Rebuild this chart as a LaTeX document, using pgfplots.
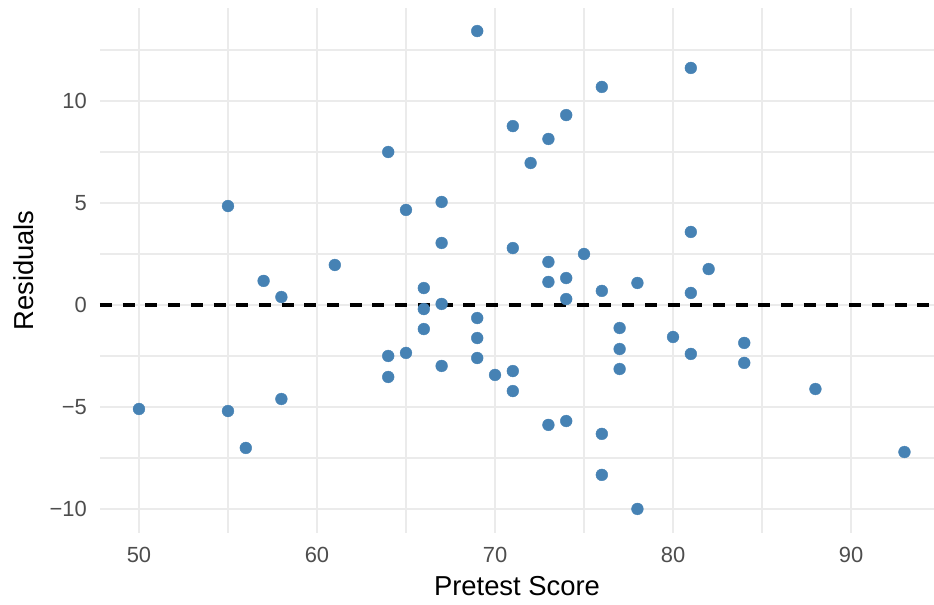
\documentclass[border=0pt]{standalone}
\usepackage{fontspec}
\setmainfont{Liberation Sans}
\usepackage{pgfplots}
\pgfplotsset{compat=1.18}
\definecolor{steelblue}{HTML}{4682B4}
\definecolor{gridmaj}{HTML}{EBEBEB}
\definecolor{ticktxt}{HTML}{4D4D4D}
\begin{document}
\begin{tikzpicture}
\useasboundingbox (-100bp,-72bp) rectangle (834bp,533bp);
\begin{axis}[
  at={(0,0)}, anchor=south west,
  scale only axis, width=834bp, height=525bp,
  xmin=47.81, xmax=94.66, ymin=-11.18, ymax=14.56,
  axis line style={draw=none},
  major tick length=0pt, minor tick length=0pt,
  xtick={50,60,70,80,90}, xticklabels={50,60,70,80,90},
  ytick={-10,-5,0,5,10}, yticklabels={−10,−5,0,5,10},
  minor xtick={55,65,75,85}, minor ytick={-7.5,-2.5,2.5,7.5,12.5},
  grid=both,
  major grid style={draw=gridmaj, line width=2.6bp},
  minor grid style={draw=gridmaj, line width=1.4bp},
  xticklabel style={font=\fontsize{22}{26}\selectfont, text=ticktxt, anchor=north, inner sep=0pt, yshift=-14bp},
  yticklabel style={font=\fontsize{22}{26}\selectfont, text=ticktxt, anchor=east, inner sep=0pt, xshift=-13bp},
  xlabel={Pretest Score}, ylabel={Residuals},
  every axis x label/.style={at={(axis description cs:0.5,-0.102)}, anchor=center, font=\fontsize{27.5}{32}\selectfont},
  every axis y label/.style={at={(axis description cs:-0.0915,0.5)}, anchor=center, rotate=90, font=\fontsize{27.5}{32}\selectfont},
  clip=false,
]
\addplot[steelblue, only marks, mark=*, mark size=5.9bp, line width=0.4bp, mark options={fill=steelblue, draw=steelblue}] coordinates {
(69,13.43) (81,11.62) (76,10.69) (74,9.31) (71,8.77) (73,8.14) (64,7.50) (72,6.96)
(55,4.85) (65,4.66) (67,5.05) (67,3.04) (81,3.58) (71,2.79) (75,2.50) (73,2.11)
(61,1.96) (82,1.76) (57,1.18) (73,1.13) (74,1.32) (78,1.08) (66,0.83) (76,0.69)
(81,0.59) (58,0.39) (74,0.29) (67,0.05) (66,-0.20) (69,-0.64) (66,-1.18) (77,-1.13)
(80,-1.57) (69,-1.62) (84,-1.86) (77,-2.16) (65,-2.35) (64,-2.50) (81,-2.40) (69,-2.60)
(84,-2.84) (67,-2.99) (77,-3.14) (71,-3.24) (70,-3.43) (64,-3.53) (88,-4.12) (71,-4.22)
(58,-4.61) (50,-5.10) (55,-5.20) (74,-5.69) (73,-5.88) (76,-6.32) (56,-7.01) (93,-7.21)
(76,-8.33) (78,-10.00)
};
\addplot[black, line width=3.4bp, dash pattern=on 12bp off 10.7bp] coordinates {(47.81,0) (94.66,0)};
\end{axis}
\end{tikzpicture}
\end{document}
